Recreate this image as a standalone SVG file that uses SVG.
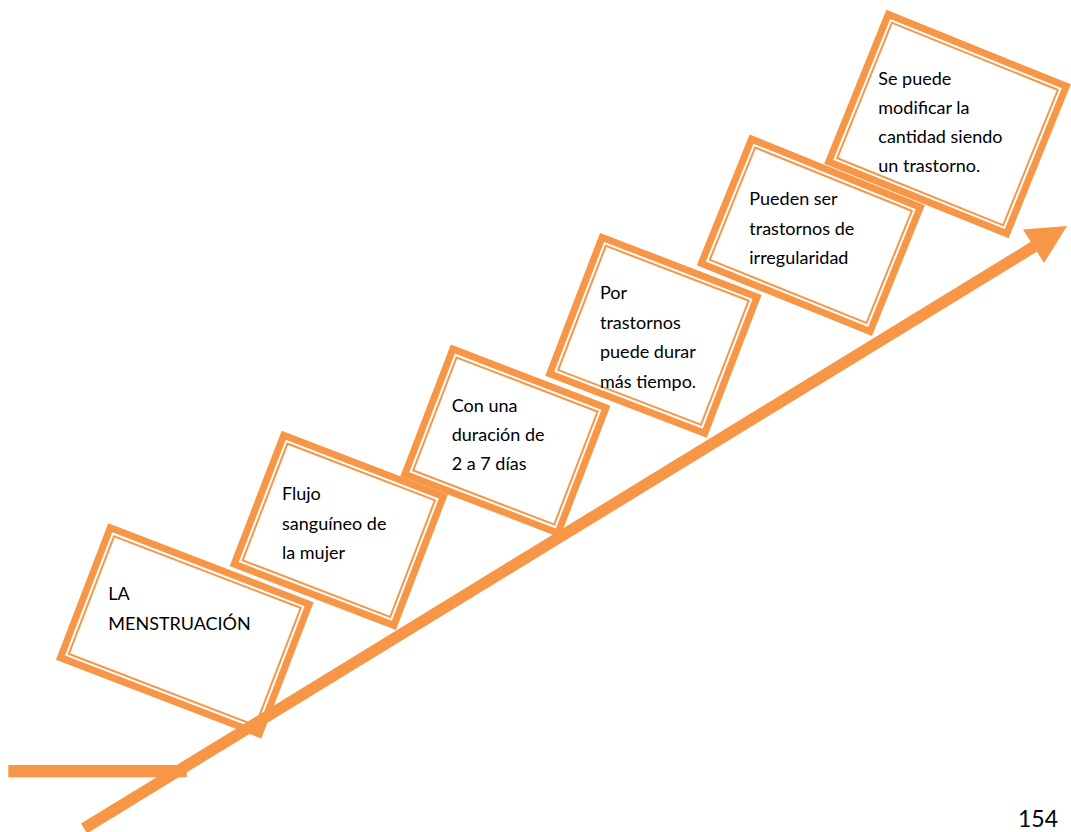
<svg xmlns="http://www.w3.org/2000/svg" width="1071" height="832" viewBox="0 0 1071 832">
<style>
.outer{fill:#fff;stroke:#F79646;stroke-width:7}
.inner{fill:none;stroke:#F79646;stroke-width:2}
.t{font-family:Lato,"Liberation Sans",sans-serif;font-size:18px;fill:#000}
.ln{stroke:#F79646;stroke-width:11.5;fill:none}
</style>
<rect width="1071" height="832" fill="#fff"/>
<g id="box6">
<g transform="translate(947.5,124) rotate(22)">
<rect class="outer" x="-96" y="-79.5" width="192" height="159"/>
<rect class="inner" x="-89.5" y="-73" width="179" height="146"/>
</g>
<text class="t"><tspan x="878.3" y="85">Se puede</tspan><tspan x="878.3" y="114">modificar la</tspan><tspan x="878.3" y="143.3">cantidad siendo</tspan><tspan x="878.3" y="172.3">un trastorno.</tspan></text>
</g>
<g id="box5">
<g transform="translate(810.8,235.3) rotate(22)">
<rect class="outer" x="-91" y="-67" width="182" height="134"/>
<rect class="inner" x="-84.5" y="-60.5" width="169" height="121"/>
</g>
<text class="t"><tspan x="749.3" y="205">Pueden ser</tspan><tspan x="749.3" y="235">trastornos de</tspan><tspan x="749.3" y="264.3">irregularidad</tspan></text>
</g>
<g id="box4">
<g transform="translate(653.4,335.3) rotate(21)">
<rect class="outer" x="-83" y="-73" width="166" height="146"/>
<rect class="inner" x="-76.5" y="-66.5" width="153" height="133"/>
</g>
<text class="t"><tspan x="600" y="299">Por</tspan><tspan x="600" y="329">trastornos</tspan><tspan x="600" y="358.3">puede durar</tspan><tspan x="600" y="387.7">más tiempo.</tspan></text>
</g>
<g id="box3">
<g transform="translate(505.4,441) rotate(21)">
<rect class="outer" x="-82" y="-67" width="164" height="134"/>
<rect class="inner" x="-75.5" y="-60.5" width="151" height="121"/>
</g>
<text class="t"><tspan x="451.7" y="411.7">Con una</tspan><tspan x="451.7" y="441">duración de</tspan><tspan x="451.7" y="470">2 a 7 días</tspan></text>
</g>
<g id="box2">
<g transform="translate(338.8,530.3) rotate(21)">
<rect class="outer" x="-85.5" y="-69" width="171" height="138"/>
<rect class="inner" x="-79" y="-62.5" width="158" height="125"/>
</g>
<text class="t"><tspan x="282" y="500">Flujo</tspan><tspan x="282" y="530">sanguíneo de</tspan><tspan x="282" y="559.3">la mujer</tspan></text>
</g>
<g id="box1">
<g transform="translate(184.8,630.9) rotate(21)">
<rect class="outer" x="-106.5" y="-69.5" width="213" height="139"/>
<rect class="inner" x="-100" y="-63" width="200" height="126"/>
</g>
<text class="t"><tspan x="108.3" y="600">LA</tspan><tspan x="108.3" y="630">MENSTRUACIÓN</tspan></text>
</g>
<g id="connectors">
<rect x="8.3" y="765" width="178.4" height="12.3" fill="#F79646"/>
<line class="ln" x1="84" y1="828.5" x2="1035" y2="246"/>
<polygon points="1067,226 1023,229.5 1044,263" fill="#F79646"/>
</g>
<text id="page" x="1018" y="827" font-family="Lato,'Liberation Sans',sans-serif" font-size="23" fill="#000">154</text>
</svg>
